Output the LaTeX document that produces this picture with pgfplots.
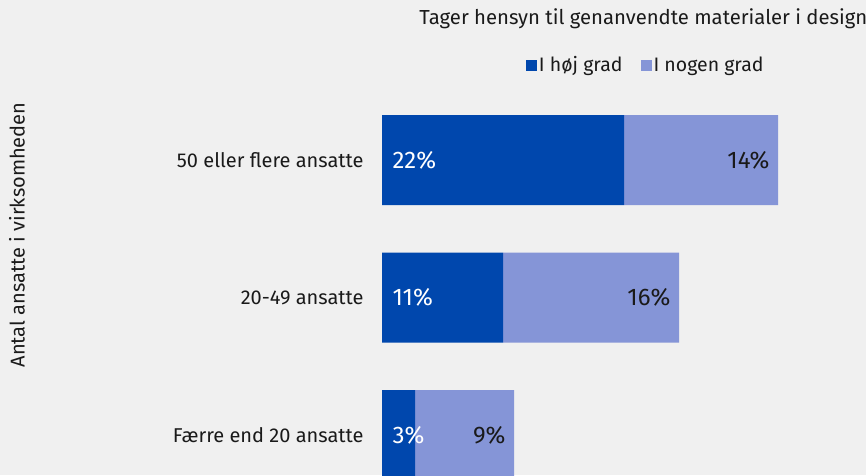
\documentclass[border=0pt]{standalone}
\usepackage{pgfplots}
\pgfplotsset{compat=1.18}
\usepackage{fontspec}
\setmainfont{Fira Sans}
\definecolor{dk}{HTML}{0047AD}
\definecolor{lt}{HTML}{8595D7}
\definecolor{bg}{HTML}{F0F0F0}
\definecolor{tx}{HTML}{1A1A1A}
\newcommand{\fs}[1]{\fontsize{#1}{#1}\selectfont}
\begin{document}
\begin{tikzpicture}[x=1pt,y=1pt]
\fill[bg] (0,0) rectangle (866,475);
\node[rotate=90, font=\fs{20}, text=tx] at (17,240) {Antal ansatte i virksomheden};
\begin{axis}[
  at={(382pt,0pt)}, anchor=south west,
  scale only axis, width=484pt, height=383.75pt,
  xmin=0, xmax=44, ymin=-0.2909, ymax=2.5,
  stack plots=x,
  axis line style={draw=none}, major tick length=0pt,
  xtick=\empty, ytick={0,1,2},
  yticklabels={Færre end 20 ansatte, 20-49 ansatte, 50 eller flere ansatte},
  yticklabel style={font=\fs{20}, text=tx, xshift=-15pt},
  title={Tager hensyn til genanvendte materialer i design},
  title style={at={(0.54,1.1726)}, anchor=center, font=\fs{20.3}, text=tx},
  legend style={at={(0.545,1.0684)}, anchor=center, draw=none, fill=none,
    legend columns=2, font=\fs{19.5}, text=tx,
    /tikz/every even column/.append style={column sep=16pt}},
  legend image code/.code={\fill[#1] (0pt,-5.5pt) rectangle (11pt,5.5pt);},
]
\addplot[xbar, bar width=90pt, fill=dk, draw=none]
  coordinates {(3,0) (11,1) (22,2)};
\addplot[xbar, bar width=90pt, fill=lt, draw=none]
  coordinates {(9,0) (16,1) (14,2)};
% labels: dark share at the bar start, light share at the bar end
\addplot[stack plots=false, draw=none, mark=none, point meta=explicit symbolic,
  nodes near coords,
  every node near coord/.style={anchor=west, text=white, font=\fs{24}, xshift=7pt, yshift=0pt}]
  coordinates {(0,0)[3\%] (0,1)[11\%] (0,2)[22\%]};
\addplot[stack plots=false, draw=none, mark=none, point meta=explicit symbolic,
  nodes near coords,
  every node near coord/.style={anchor=east, text=tx, font=\fs{24}, xshift=-5pt, yshift=0pt}]
  coordinates {(12,0)[9\%] (27,1)[16\%] (36,2)[14\%]};
\legend{I høj grad, I nogen grad}
\end{axis}
\pgfresetboundingbox
\path (0,0) rectangle (866,475);
\end{tikzpicture}
\end{document}
